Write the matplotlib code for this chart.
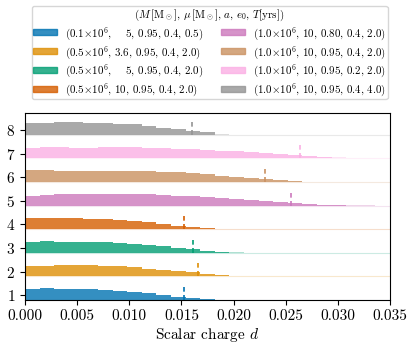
import numpy as np
import matplotlib
matplotlib.use("Agg")
import matplotlib.pyplot as plt
from matplotlib.patches import Patch
from matplotlib.ticker import FormatStrFormatter

plt.rcParams['font.family'] = 'serif'
plt.rcParams['font.serif'] = ['cmr10']
plt.rcParams['mathtext.fontset'] = 'cm'
plt.rcParams['axes.formatter.use_mathtext'] = True

# histogram bins (same for every row)
bin_width = 0.0014

# normalised bin heights, one list per row (row 1 at the bottom)
h1 = [0.91, 1.0, 0.97, 0.91, 0.91, 0.85, 0.79, 0.71, 0.59, 0.44, 0.29, 0.15, 0.06, 0.02]
h2 = [0.94, 0.94, 1.0, 1.0, 1.0, 0.91, 0.86, 0.77, 0.66, 0.54, 0.46, 0.34, 0.23, 0.11,
      0.06, 0.03, 0.02, 0.01]
h3 = [0.94, 1.0, 0.97, 0.97, 0.97, 0.91, 0.86, 0.80, 0.69, 0.57, 0.43, 0.29, 0.17, 0.09,
      0.04, 0.02]
h4 = [0.97, 1.0, 0.97, 0.94, 0.91, 0.86, 0.80, 0.71, 0.60, 0.46, 0.31, 0.17, 0.09, 0.04,
      0.02, 0.01]
h5 = [0.85, 0.94, 0.97, 0.97, 1.0, 1.0, 1.0, 1.0, 0.97, 0.91, 0.85, 0.79, 0.74, 0.68,
      0.59, 0.50, 0.41, 0.32, 0.24, 0.15, 0.09, 0.03, 0.015, 0.01, 0.005]
h6 = [1.0, 1.0, 0.97, 0.94, 0.94, 0.94, 0.97, 0.94, 0.91, 0.89, 0.83, 0.74, 0.66, 0.54,
      0.43, 0.34, 0.23, 0.14, 0.09, 0.04, 0.02, 0.01]
h7 = [0.89, 0.97, 0.97, 0.94, 0.94, 0.97, 0.97, 1.0, 0.91, 0.91, 0.83, 0.80, 0.71, 0.66,
      0.60, 0.54, 0.49, 0.40, 0.31, 0.23, 0.14, 0.09, 0.06, 0.03, 0.015]
h8 = [1.06, 1.06, 1.09, 1.09, 1.06, 1.03, 0.97, 0.91, 0.80, 0.63, 0.46, 0.31, 0.20, 0.09,
      0.02]
heights = [h1, h2, h3, h4, h5, h6, h7, h8]

# number of bins drawn dark in each row (the rest is the faint tail)
n_dark = [13, 15, 14, 13, 22, 19, 21, 13]

# dashed markers
markers = [0.0152, 0.0166, 0.0161, 0.01525, 0.0255, 0.0230, 0.0264, 0.0160]

colors = ['#0173b2', '#de8f05', '#029e73', '#d55e00',
          '#cc78bc', '#ca9161', '#fbafe4', '#949494']

labels = [r'$(0.1{\times}10^6$,    5, 0.95, 0.4, 0.5)',
          r'$(0.5{\times}10^6$, 3.6, 0.95, 0.4, 2.0)',
          r'$(0.5{\times}10^6$,    5, 0.95, 0.4, 2.0)',
          r'$(0.5{\times}10^6$, 10, 0.95, 0.4, 2.0)',
          r'$(1.0{\times}10^6$, 10, 0.80, 0.4, 2.0)',
          r'$(1.0{\times}10^6$, 10, 0.95, 0.4, 2.0)',
          r'$(1.0{\times}10^6$, 10, 0.95, 0.2, 2.0)',
          r'$(1.0{\times}10^6$, 10, 0.95, 0.4, 4.0)']

title = r'$(M\,[\mathrm{M}_\odot],\,\mu\,[\mathrm{M}_\odot],\,a,\,e_0,\,T[\mathrm{yrs}])$'

scale = 0.49
offset = 0.2

fig = plt.figure(figsize=(4.15, 3.48), dpi=100)
ax = fig.add_axes([0.060, 0.138, 0.880, 0.537])

for i, (h, nd, m, c) in enumerate(zip(heights, n_dark, markers, colors)):
    row = i + 1
    base = row - offset
    h = np.array(h) * scale
    left = np.arange(len(h)) * bin_width
    ax.bar(left[:nd], h[:nd], width=bin_width, bottom=base, align='edge',
           color=c, alpha=0.8, linewidth=0)
    ax.bar(left[nd:], h[nd:], width=bin_width, bottom=base, align='edge',
           color=c, alpha=0.3, linewidth=0)
    ax.axhline(base, color=c, alpha=0.2, lw=0.8)
    ax.vlines(m, base, base + 0.55, colors=c, linestyles=(0, (3, 2)), lw=1.2)

ax.set_xlim(0, 0.035)
ax.set_ylim(0.8, 8.72)
ax.set_xticks(np.arange(0, 0.0351, 0.005))
ax.xaxis.set_major_formatter(FormatStrFormatter('%.3f'))
ax.set_yticks(range(1, 9))
ax.tick_params(labelsize=11)
ax.set_xlabel(r'Scalar charge $d$', fontsize=11, labelpad=2)

handles = [Patch(color=c, alpha=0.8) for c in colors]
fig.legend(handles, labels, title=title, ncol=2, loc='upper center',
           bbox_to_anchor=(0.505, 0.982), fontsize=7.9, title_fontsize=7.9,
           handlelength=2.2, handleheight=0.55, handletextpad=0.75,
           columnspacing=1.6, labelspacing=0.18, borderpad=0.1,
           borderaxespad=0.0)

fig.savefig('out.png', dpi=100)
